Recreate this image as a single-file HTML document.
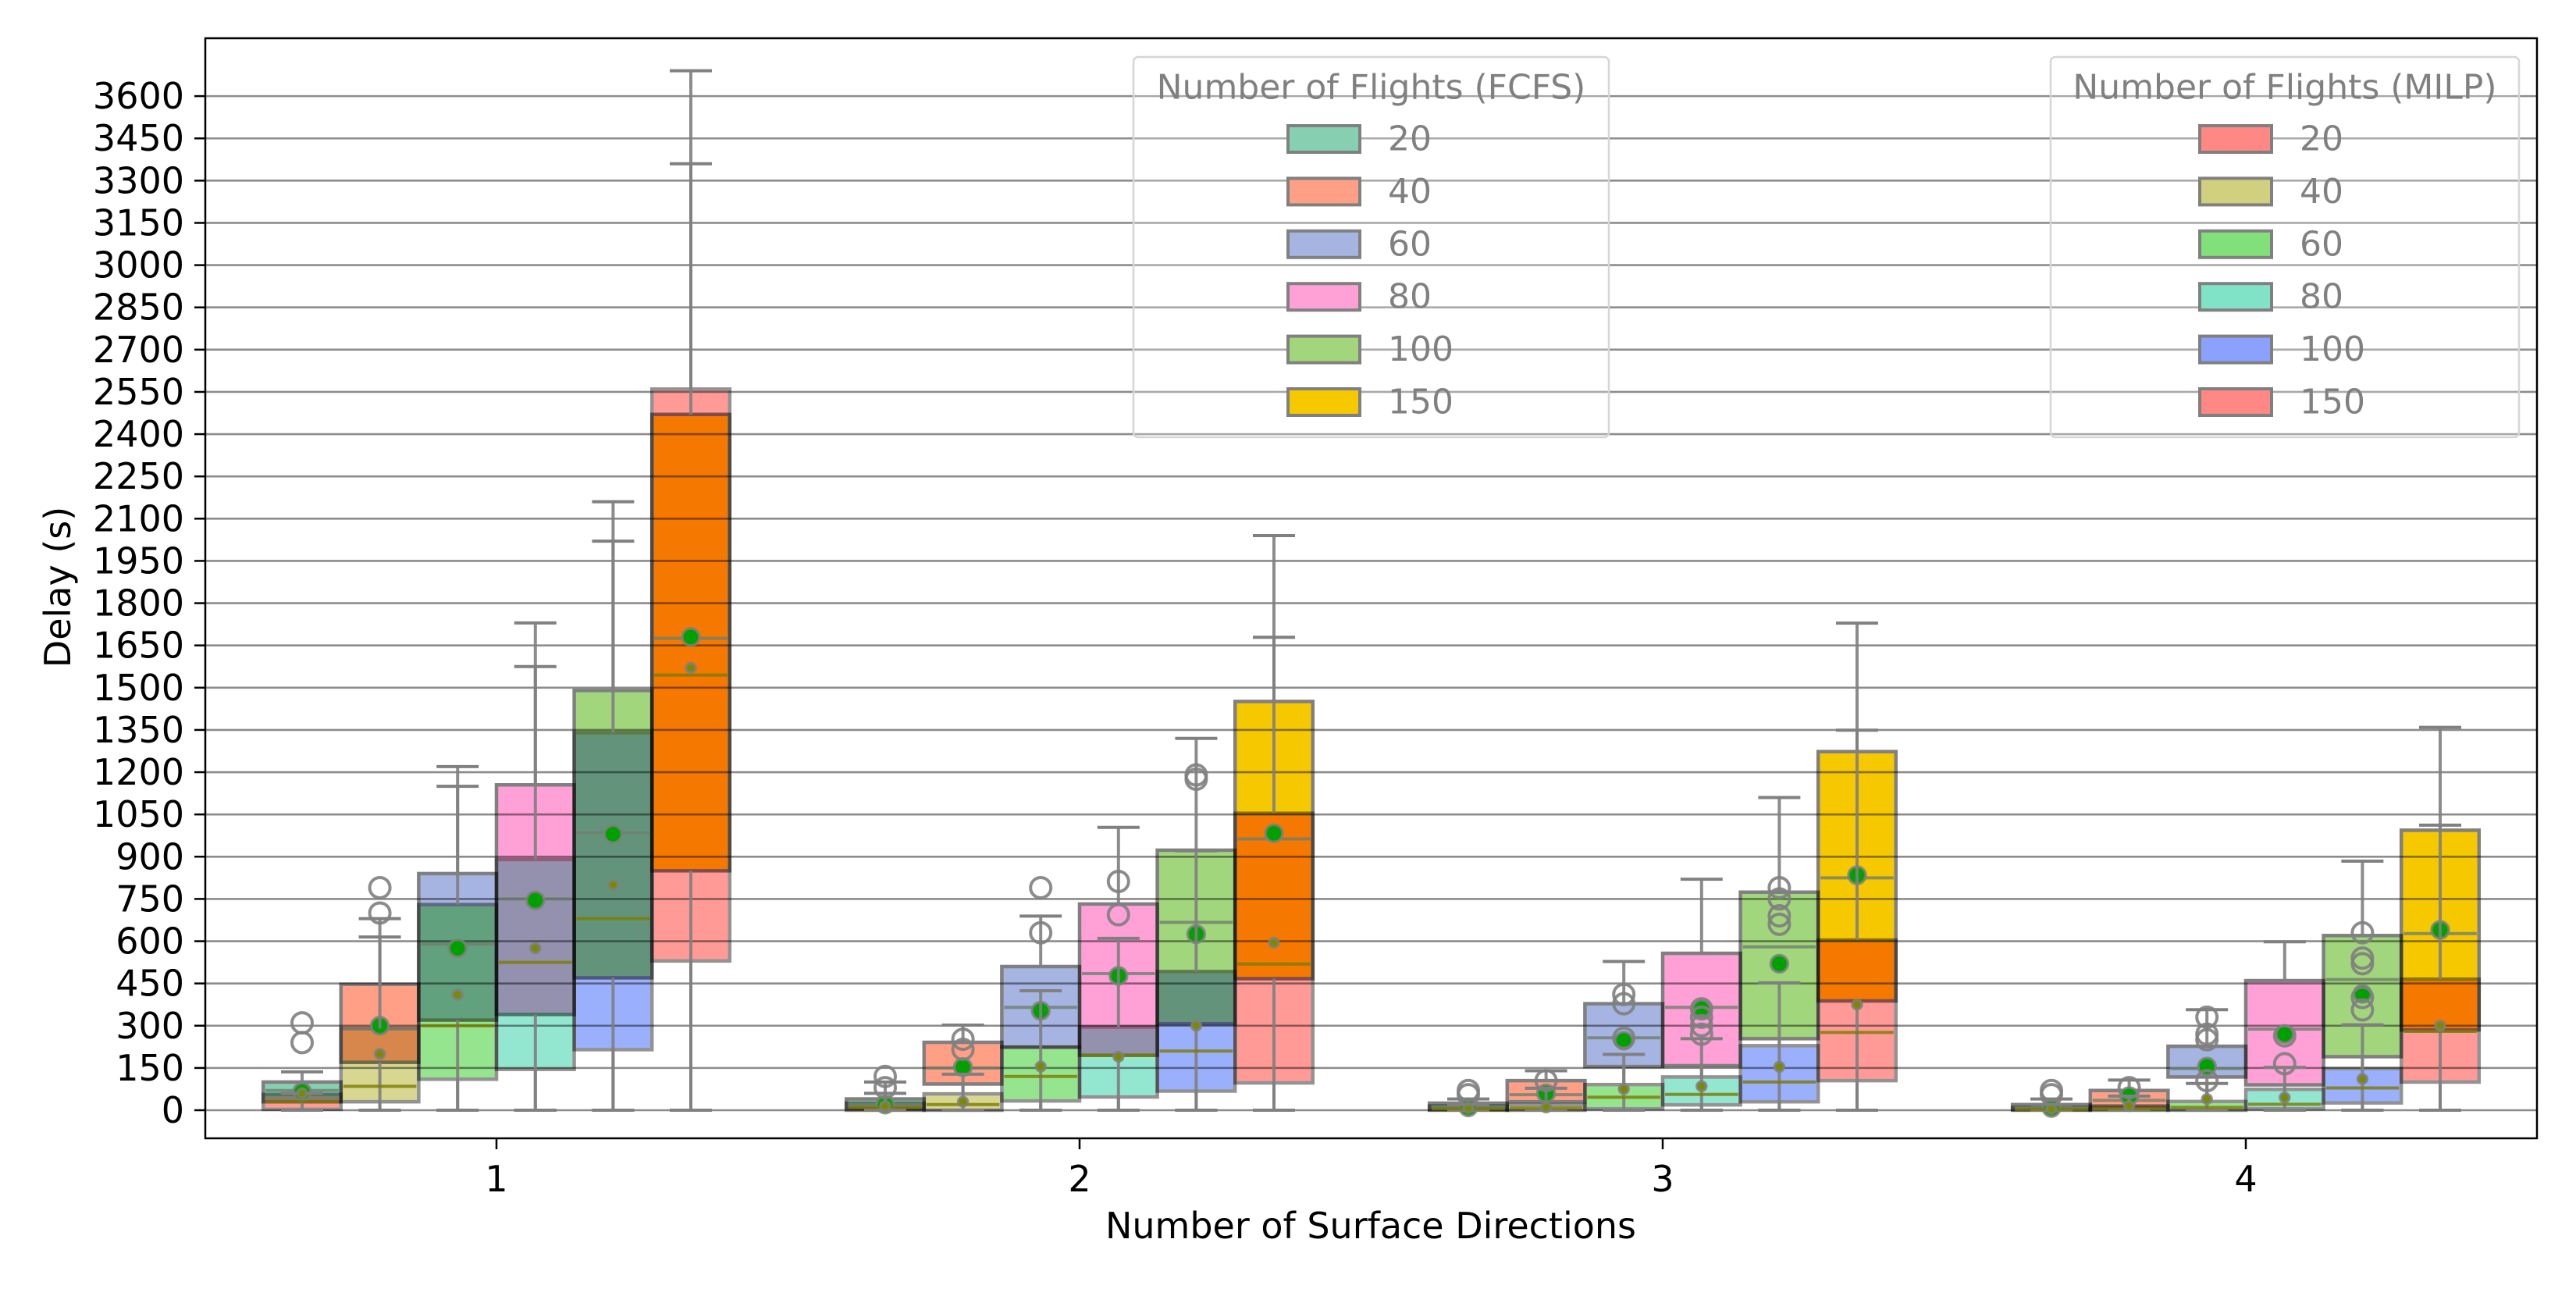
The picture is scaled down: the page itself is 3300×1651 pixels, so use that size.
<!DOCTYPE html>
<html><head><meta charset="utf-8"><style>
html,body{margin:0;padding:0;background:#fff;}
svg{display:block;font-family:"DejaVu Sans","Liberation Sans",sans-serif;}
.blend{mix-blend-mode:multiply;}
#milp .blend{opacity:0.85;}
</style></head><body>
<svg id="chart" width="3300" height="1651" viewBox="0 0 3300 1651" xmlns="http://www.w3.org/2000/svg">
<rect x="0" y="0" width="3300" height="1651" fill="#fff"/>
<g id="grid"></g>
<g id="ticks"></g>
<g id="fcfs"></g>
<g id="milp"></g>
<g id="marks"></g>
<rect x="263" y="49" width="2987" height="1409" fill="none" stroke="#000" stroke-width="2.5"/>
<text x="0" y="0" transform="translate(74,752) rotate(-90)" font-size="46" text-anchor="middle" dominant-baseline="central" fill="#000">Delay (s)</text>
<text x="1756" y="1586" font-size="46" text-anchor="middle" fill="#000">Number of Surface Directions</text>
<g id="legends"></g>
</svg>
<script>
const categories = [1, 2, 3, 4];
const hues = ["20", "40", "60", "80", "100", "150"];
const yTicks = [0,150,300,450,600,750,900,1050,1200,1350,1500,1650,1800,1950,2100,2250,2400,2550,2700,2850,3000,3150,3300,3450,3600];
const fcfsColors = ["#86cfb0","#ff9f85","#a6b4e2","#ffa0d6","#a2d67c","#f5c800"];
const milpColors = ["#ff8884","#d0d07e","#82e07a","#80e3c8","#8aa2fd","#ff8884"];
// FCFS stats [group][hue]
const fcfsQ1 = [[30,170,320,340,470,850],[5,93,224,195,307,467],[2,30,155,158,254,388],[2,10,118,90,190,285]];
const fcfsMed = [[70,290,590,750,985,1675],[20,150,365,485,667,963],[10,55,257,365,580,825],[8,35,148,288,464,627]];
const fcfsQ3 = [[100,447,840,1155,1490,2470],[40,241,510,732,923,1451],[25,105,378,557,774,1273],[20,70,227,460,620,994]];
const fcfsWhi = [[136,680,1220,1730,2160,3690],[100,302,689,1004,1320,2040],[40,140,528,820,1110,1729],[40,107,357,598,884,1359]];
const fcfsMean = [[65,300,575,745,980,1680],[20,153,353,477,625,983],[10,60,247,360,520,834],[8,50,155,270,413,640]];
// MILP stats [group][hue]
const milpQ1 = [[3,30,110,145,215,530],[0,0,33,47,68,97],[0,0,5,19,30,105],[0,0,0,5,26,100]];
const milpMed = [[30,85,300,525,680,1545],[10,20,120,195,210,519],[5,8,46,56,100,276],[3,5,10,21,79,280]];
const milpQ3 = [[56,290,730,890,1340,2560],[25,58,224,295,492,1054],[15,20,91,118,229,604],[10,15,31,74,148,465]];
const milpWhi = [[60,615,1150,1575,2020,3360],[60,128,424,610,921,1679],[20,78,198,254,452,1349],[20,50,95,152,303,1012]];
const milpMean = [[60,200,410,575,800,1570],[15,30,155,190,300,595],[8,10,75,85,154,375],[5,15,40,45,111,300]];
// outliers [group][hue]
const outliers = [
 [[240,310],[700,790],[],[],[],[]],
 [[80,120],[216,252],[630,790],[694,812],[1175,1190],[]],
 [[55,70],[105],[256,378,411],[270,300,330,360],[660,690,750,790],[]],
 [[55,70],[80],[105,250,270,330],[165,264],[356,400,520,540,630],[]]
];

const NS = "http://www.w3.org/2000/svg";
const X0 = 636, UNIT = 747, BW = UNIT*0.8/6;
const Y0 = 1422, PPU = 0.3608;
function xPos(g, h){ return X0 + g*UNIT + (h-2.5)*BW; }
function yPos(v){ return Y0 - v*PPU; }
function mk(tag, attrs, parent){
  const e = document.createElementNS(NS, tag);
  for (const k in attrs) e.setAttribute(k, attrs[k]);
  parent.appendChild(e); return e;
}
const grid = document.getElementById('grid');
const ticks = document.getElementById('ticks');
yTicks.forEach(t => {
  const l = mk('line', {x1:263, x2:3250, y1:yPos(t), y2:yPos(t), stroke:'#8c8c8c', 'stroke-width':2.6}, grid);
  
  
  mk('line', {x1:249, x2:263, y1:yPos(t), y2:yPos(t), stroke:'#000', 'stroke-width':2.5}, ticks);
  const tx = mk('text', {x:236, y:yPos(t), 'font-size':46, 'text-anchor':'end', 'dominant-baseline':'central', fill:'#000'}, ticks);
  tx.textContent = t;
  
  
});
categories.forEach((c, g) => {
  const x = X0 + g*UNIT;
  mk('line', {x1:x, x2:x, y1:1458, y2:1472, stroke:'#000', 'stroke-width':2.5}, ticks);
  const tx = mk('text', {x:x, y:1510, 'font-size':46, 'text-anchor':'middle', 'dominant-baseline':'central', fill:'#000'}, ticks);
  tx.textContent = c;
  
  
});

const fG = document.getElementById('fcfs'), mG = document.getElementById('milp'), marks = document.getElementById('marks');
function drawBoxes(layer, q1, q3, colors, name){
  categories.forEach((c, g) => hues.forEach((h, i) => {
    const x = xPos(g, i);
    const top = yPos(q3[g][i]), bot = yPos(q1[g][i]);
    const r = mk('rect', {x:x-BW/2, y:top, width:BW, height:Math.max(bot-top,1), fill:colors[i], stroke:'#808080', 'stroke-width':4.5, 'class':'blend'}, layer);
    
    
  }));
}
drawBoxes(fG, fcfsQ1, fcfsQ3, fcfsColors, 'fcfs');
drawBoxes(mG, milpQ1, milpQ3, milpColors, 'milp');

function drawMarks(q1, med, q3, whi, mean, medColor, meanFill, meanR, name){
  categories.forEach((c, g) => hues.forEach((h, i) => {
    const x = xPos(g, i);
    mk('line', {x1:x, x2:x, y1:yPos(q3[g][i]), y2:yPos(whi[g][i]), stroke:'#808080', 'stroke-width':4, 'stroke-opacity':0.9}, marks);
    mk('line', {x1:x, x2:x, y1:yPos(q1[g][i]), y2:yPos(0), stroke:'#808080', 'stroke-width':4, 'stroke-opacity':0.9}, marks);
    mk('line', {x1:x-27, x2:x+27, y1:yPos(whi[g][i]), y2:yPos(whi[g][i]), stroke:'#808080', 'stroke-width':4}, marks);
    mk('line', {x1:x-27, x2:x+27, y1:yPos(0), y2:yPos(0), stroke:'#808080', 'stroke-width':4}, marks);
    const m = mk('line', {x1:x-BW/2+3, x2:x+BW/2-3, y1:yPos(med[g][i]), y2:yPos(med[g][i]), stroke:medColor, 'stroke-width':4, 'stroke-opacity':0.8}, marks);
    
    
    const mc = mk('circle', {cx:x, cy:yPos(mean[g][i]), r:meanR, fill:meanFill, stroke:'#808080', 'stroke-width':3.5, 'stroke-opacity':0.8}, marks);
    
    
  }));
}
drawMarks(fcfsQ1, fcfsMed, fcfsQ3, fcfsWhi, fcfsMean, '#6f7f6f', '#00a000', 11, 'fcfs');
drawMarks(milpQ1, milpMed, milpQ3, milpWhi, milpMean, '#7a7a00', '#7a8a00', 6, 'milp');
categories.forEach((c, g) => hues.forEach((h, i) => {
  outliers[g][i].forEach(v => {
    const o = mk('circle', {cx:xPos(g,i), cy:yPos(v), r:13, fill:'none', stroke:'#808080', 'stroke-width':4, 'stroke-opacity':0.9}, marks);
    
    
  });
}));

const legends = document.getElementById('legends');
function legend(x0, x1, title, colors, patchX, name){
  const lg = mk('g', {}, legends);
  
  
  mk('rect', {x:x0, y:73, width:x1-x0, height:487, rx:6, fill:'#fff', 'fill-opacity':0.25, stroke:'#d6d6d6', 'stroke-width':2.5}, lg);
  const t = mk('text', {x:(x0+x1)/2, y:112, 'font-size':44, 'text-anchor':'middle', 'dominant-baseline':'central', fill:'#808080'}, lg);
  t.textContent = title;
  hues.forEach((h, i) => {
    const y = 178 + i*67.4;
    const p = mk('rect', {x:patchX, y:y-17, width:92, height:34, fill:colors[i], stroke:'#808080', 'stroke-width':4}, lg);
    
    
    const lt = mk('text', {x:patchX+128, y:y, 'font-size':44, 'dominant-baseline':'central', fill:'#808080'}, lg);
    lt.textContent = h;
  });
}
legend(1452, 2061, 'Number of Flights (FCFS)', fcfsColors, 1650, 'legend-fcfs');
legend(2627, 3227, 'Number of Flights (MILP)', milpColors, 2818, 'legend-milp');
</script>
</body></html>
